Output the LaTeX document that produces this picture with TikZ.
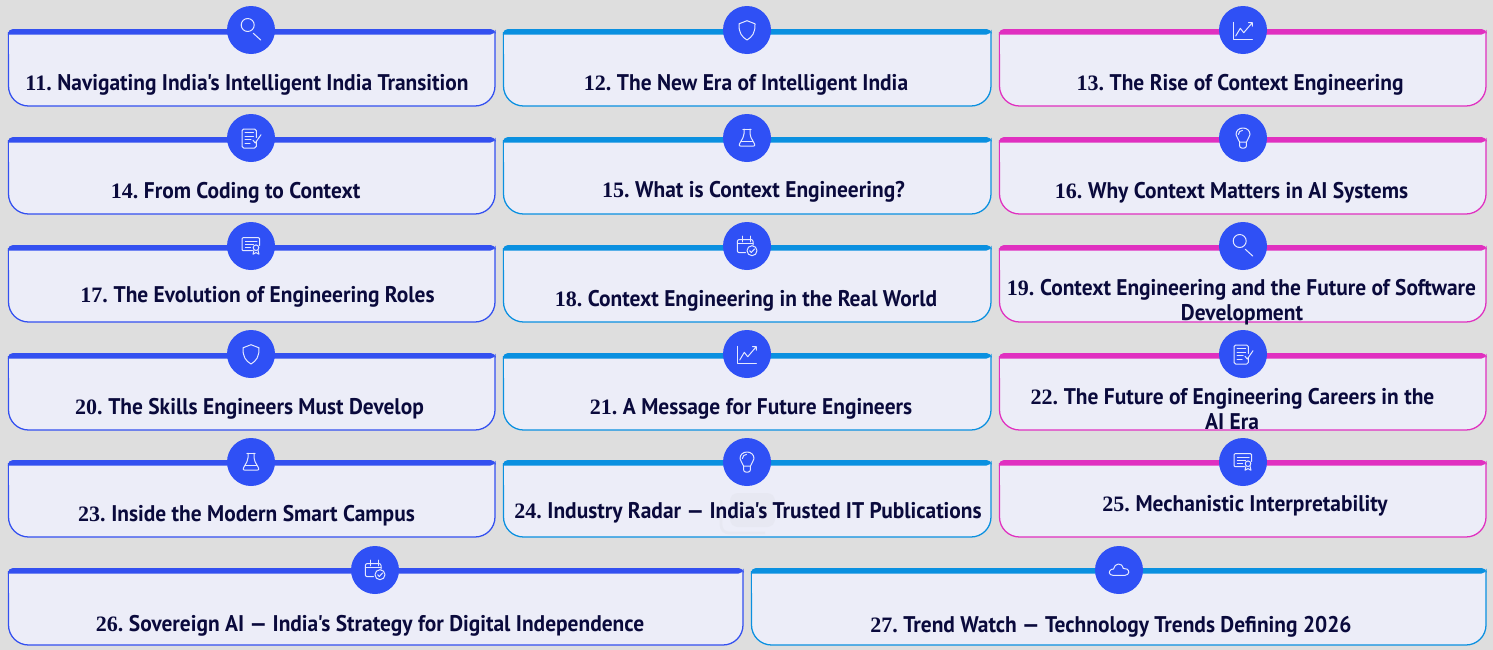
\documentclass[tikz,border=0pt]{standalone}
\usepackage{fontspec}
\setmainfont{PT Sans}
\newfontfamily\labelfont{PT Sans}[FakeStretch=0.945]
\newfontfamily\numfont{Liberation Serif}
\definecolor{pagebg}{HTML}{DEDEDE}
\definecolor{cardfill}{HTML}{ECEDF8}
\definecolor{markfill}{HTML}{E7E8F2}
\definecolor{cblue}{HTML}{3350F0}
\definecolor{ccyan}{HTML}{0A90E0}
\definecolor{cmag}{HTML}{E030C0}
\definecolor{badge}{HTML}{2F50F5}
\definecolor{ink}{HTML}{0A0A3C}
\definecolor{iconline}{HTML}{E4E8FF}
\tikzset{
 x=0.75pt,y=-0.75pt,
 badgenode/.style={circle,fill=badge,minimum size=36pt,inner sep=0pt},
 label/.style={anchor=base,inner sep=0pt,text=ink,font=\fontsize{17pt}{19pt}\labelfont\bfseries},
 ic/.style={draw=iconline,line width=0.75pt,line cap=round,line join=round},
 ic search/.pic={\draw[ic] (-3.3,-5) circle[radius=6.5] (2.3,3.3) -- (9.7,10);},
 ic shield/.pic={\draw[ic] (0,-9.3) -- (-8,-6.2) .. controls (-8.4,3) and (-5,7) .. (0,10) .. controls (5,7) and (8.4,3) .. (8,-6.2) -- cycle;},
 ic chart/.pic={\draw[ic] (-10,-7.7) -- (-10,9.3) -- (9.3,9.3);
   \draw[ic] (-7.3,6) -- (-2.7,-1.7) -- (0.7,2.7) -- (9.3,-7.3) (5.5,-7.3) -- (9.3,-7.3) -- (9.3,-3.8);},
 ic doc/.pic={\draw[ic,rounded corners=1.2pt] (5.3,-0.5) -- (5.3,-9) -- (-9,-9) -- (-9,10) -- (5.3,10) -- (5.3,4);
   \draw[ic] (-6,-5.7) -- (2.5,-5.7) (-6,-1.7) -- (2.5,-1.7) (-6,1.7) -- (0,1.7) (-6,5) -- (-1,5);
   \draw[ic] (2,2.3) -- (4.3,5) -- (10,-3.3);},
 ic flask/.pic={\draw[ic] (-4.2,-9) -- (4.2,-9);
   \draw[ic,rounded corners=1.5pt] (-3,-9) -- (-3,-2.3) -- (-8.6,8) -- (8.6,8) -- (3,-2.3) -- (3,-9);
   \draw[ic] (-6,3.3) -- (6,3.3);},
 ic bulb/.pic={\draw[ic] (-3.3,4.2) .. controls (-4,0.5) and (-7,0) .. (-7,-3.5) .. controls (-7,-7.5) and (-3.8,-10) .. (0,-10) .. controls (3.8,-10) and (7,-7.5) .. (7,-3.5) .. controls (7,0) and (4,0.5) .. (3.3,4.2) -- cycle;
   \draw[ic,rounded corners=1.5pt] (-3.3,4.2) -- (-3.3,10) -- (3.3,10) -- (3.3,4.2);
   \draw[ic] (-4.6,-3.5) .. controls (-4.6,-6) and (-2.5,-7.6) .. (-0.5,-7.6);},
 ic cert/.pic={\draw[ic,rounded corners=0.8pt] (1.5,4.7) -- (-9,4.7) -- (-9,-8.3) -- (8.7,-8.3) -- (8.7,-0.5);
   \draw[ic] (-5.7,-5) -- (6,-5) (-5.7,-1.7) -- (2.5,-1.7) (-5.7,1.6) -- (-0.5,1.6);
   \draw[ic] (5,1.7) circle[radius=2.8];
   \draw[ic] (3,4) -- (2,8.3) -- (5,6.6) -- (8,8.3) -- (7,4);},
 ic cal/.pic={\draw[ic,rounded corners=1.5pt] (-1.5,6.7) -- (-9.7,6.7) -- (-9.7,-6.5) -- (6,-6.5) -- (6,-1);
   \draw[ic] (-5,-10) -- (-5,-4.2) (3,-10) -- (3,-4.2) (-9.7,-2.3) -- (6,-2.3);
   \draw[ic] (5,4.7) circle[radius=5];
   \draw[ic] (2.6,4.8) -- (4.3,6.5) -- (7.5,3);},
 ic cloud/.pic={\draw[ic] (-6,5.3) .. controls (-10,5.3) and (-11,1.2) .. (-7.8,-0.5)
    .. controls (-7,-1) and (-6.5,-1) .. (-5.5,-1) .. controls (-4.5,-7) and (3,-8) .. (4.2,-1.6)
    .. controls (7,-2.5) and (10,0) .. (9.8,2.2) .. controls (9.6,4) and (8,5.3) .. (6,5.3) -- cycle;},
}
% name, x0, x1, ytop, ybot, colour, badge x, badge y, icon
\newcommand{\card}[9]{%
 \path[fill=cardfill,draw=#6,line width=0.95pt,rounded corners=15pt] (#2,#4+3) -- (#2,#5) -- (#3,#5) -- (#3,#4+3);
 \path[fill=cardfill,draw=none] (#2+0.6,#4+5) rectangle (#3-0.6,#4+25);
 \fill[#6,rounded corners=3.75pt] (#2-0.6,#4+5.5) -- (#2-0.6,#4) -- (#3+0.6,#4) -- (#3+0.6,#4+5.5) [sharp corners] -- cycle;
 \node[badgenode] (#1) at (#7,#8) {};
 \pic at (#1) {ic #9};
}
\newcommand{\num}[1]{{\fontsize{16.5pt}{19pt}\numfont\bfseries #1}\hspace{-1.2pt}}
\newcommand{\aps}{\symbol{39}}
\begin{document}
\begin{tikzpicture}
\useasboundingbox (0,0) rectangle (1493,650);
\fill[pagebg] (0,0) rectangle (1493,650);
\card{b11}{8.5}{495}{29}{106}{cblue}{251}{30}{search}
\card{b12}{503.5}{991}{29}{106}{ccyan}{747}{30}{shield}
\card{b13}{999.5}{1486}{29}{106}{cmag}{1243}{30}{chart}
\card{b14}{8.5}{495}{137}{214}{cblue}{251}{138}{doc}
\card{b15}{503.5}{991}{137}{214}{ccyan}{747}{138}{flask}
\card{b16}{999.5}{1486}{137}{214}{cmag}{1243}{138}{bulb}
\card{b17}{8.5}{495}{245}{322}{cblue}{251}{246}{cert}
\card{b18}{503.5}{991}{245}{322}{ccyan}{747}{246}{cal}
\card{b19}{999.5}{1486}{245}{322}{cmag}{1243}{246}{search}
\card{b20}{8.5}{495}{353}{430}{cblue}{251}{354}{shield}
\card{b21}{503.5}{991}{353}{430}{ccyan}{747}{354}{chart}
\card{b22}{999.5}{1486}{353}{430}{cmag}{1243}{354}{doc}
\card{b23}{8.5}{495}{460}{537}{cblue}{251}{462}{flask}
\card{b24}{503.5}{991}{460}{537}{ccyan}{747}{462}{bulb}
\card{b25}{999.5}{1486}{460}{537}{cmag}{1243}{462}{cert}
\card{b26}{8.5}{743}{568}{645}{cblue}{375}{570}{cal}
\card{b27}{751.5}{1486}{568}{645}{ccyan}{1119}{570}{cloud}
% faint mark
\fill[markfill,rounded corners=6pt] (730,493) rectangle (775,527);
\draw[draw=markfill,line width=2pt,rounded corners=6pt] (721,500) -- (721,533) -- (765,533);
\node[label] (t11) at (247,90) {\num{11.} Navigating India\aps s Intelligent India Transition};
\node[label] (t12) at (746,90) {\num{12.} The New Era of Intelligent India};
\node[label] (t13) at (1240,90) {\num{13.} The Rise of Context Engineering};
\node[label] (t14) at (235.5,198) {\num{14.} From Coding to Context};
\node[label] (t15) at (753.5,197) {\num{15.} What is Context Engineering?};
\node[label] (t16) at (1231.5,198) {\num{16.} Why Context Matters in AI Systems};
\node[label] (t17) at (257.5,302) {\num{17.} The Evolution of Engineering Roles};
\node[label] (t18) at (746,306) {\num{18.} Context Engineering in the Real World};
\node[label] (t19a) at (1241.5,295) {\num{19.} Context Engineering and the Future of Software};
\node[label] (t19b) at (1242,320) {Development};
\node[label] (t20) at (249.5,414) {\num{20.} The Skills Engineers Must Develop};
\node[label] (t21) at (751,414) {\num{21.} A Message for Future Engineers};
\node[label] (t22a) at (1232.5,404) {\num{22.} The Future of Engineering Careers in the};
\node[label] (t22b) at (1232,429) {AI Era};
\node[label] (t23) at (246.5,521) {\num{23.} Inside the Modern Smart Campus};
\node[label] (t24) at (748,518) {\num{24.} Industry Radar — India\aps s Trusted IT Publications};
\node[label] (t25) at (1245,511) {\num{25.} Mechanistic Interpretability};
\node[label] (t26) at (370,631) {\num{26.} Sovereign AI — India\aps s Strategy for Digital Independence};
\node[label] (t27) at (1111,632) {\num{27.} Trend Watch — Technology Trends Defining 2026};
\end{tikzpicture}
\end{document}
